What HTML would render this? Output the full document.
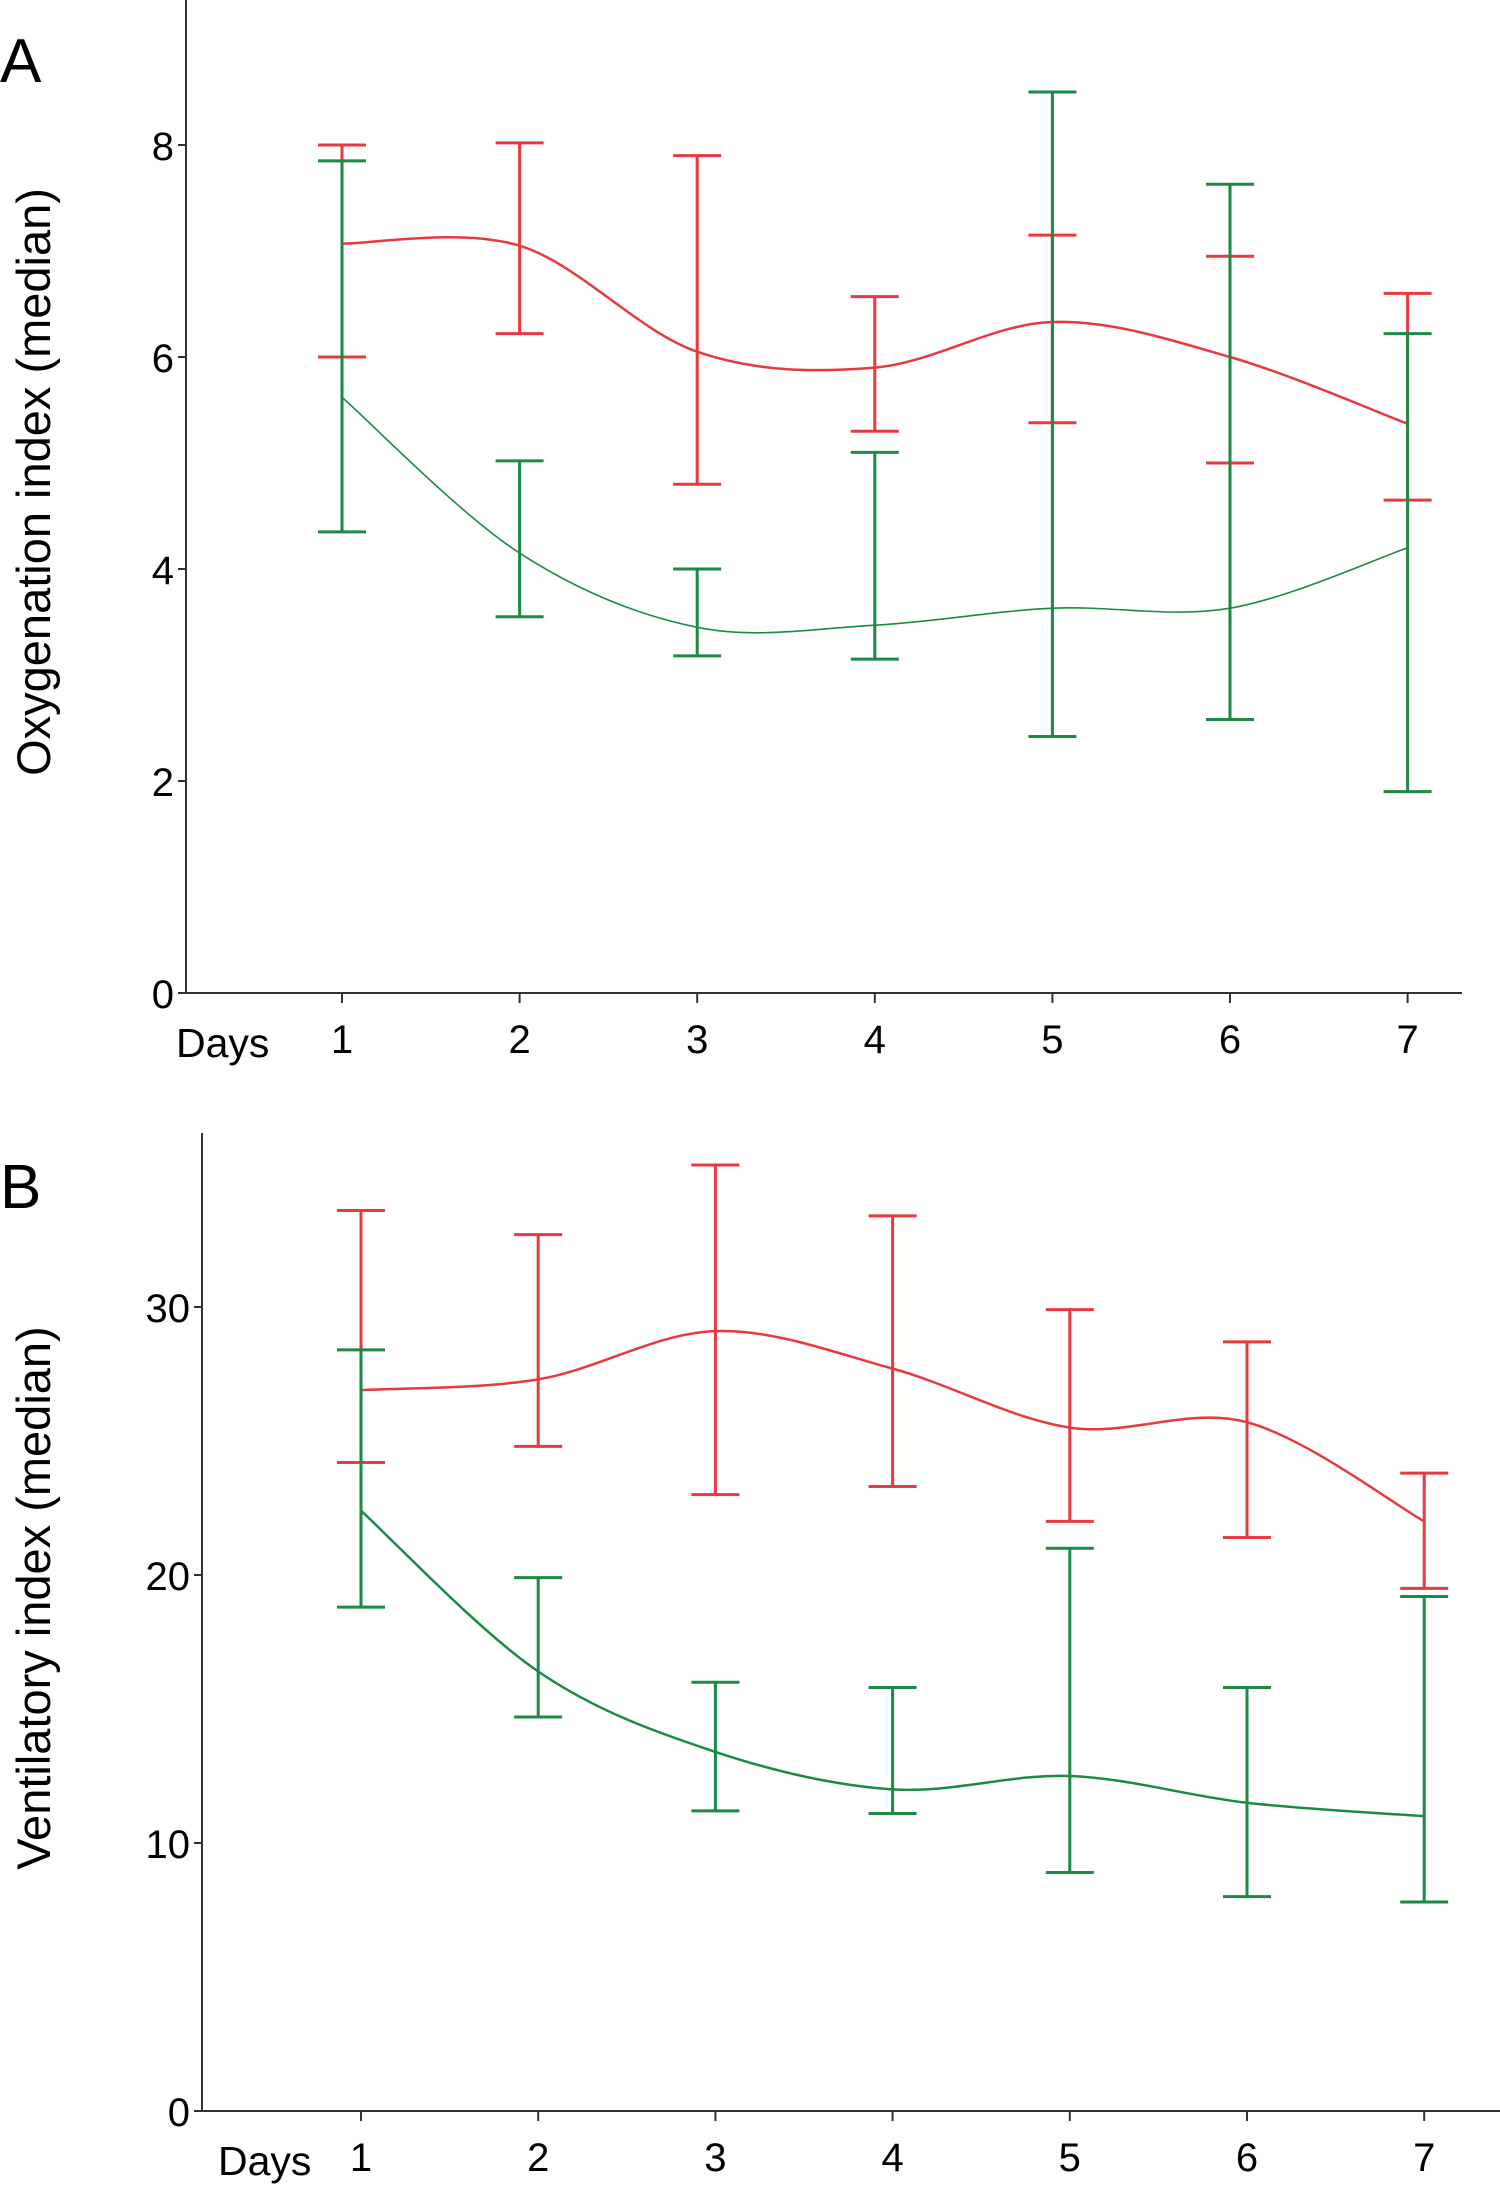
<!DOCTYPE html>
<html><head><meta charset="utf-8">
<style>
html,body{margin:0;padding:0;background:#fff;}
svg{display:block;font-family:"Liberation Sans",sans-serif;}
</style></head>
<body>
<svg id="chart" width="1500" height="2188" viewBox="0 0 1500 2188" xmlns="http://www.w3.org/2000/svg">
<text x="0" y="82" font-size="62">A</text>
<text x="0" y="1208" font-size="62">B</text>
</svg>
<script>
const days = [1,2,3,4,5,6,7];
const aTicks = [0,2,4,6,8];
const bTicks = [0,10,20,30];
const aRedMed = [7.07,7.05,6.05,5.9,6.33,6.0,5.37];
const aRedLo = [6.0,6.22,4.8,5.3,5.38,5.0,4.65];
const aRedHi = [8.0,8.02,7.9,6.57,7.15,6.95,6.6];
const aGreenMed = [5.62,4.15,3.45,3.47,3.63,3.63,4.2];
const aGreenLo = [4.35,3.55,3.18,3.15,2.42,2.58,1.9];
const aGreenHi = [7.85,5.02,4.0,5.1,8.5,7.63,6.22];
const bRedMed = [26.9,27.3,29.1,27.7,25.5,25.7,22.0];
const bRedLo = [24.2,24.8,23.0,23.3,22.0,21.4,19.5];
const bRedHi = [33.6,32.7,35.3,33.4,29.9,28.7,23.8];
const bGreenMed = [22.4,16.4,13.4,12.0,12.5,11.5,11.0];
const bGreenLo = [18.8,14.7,11.2,11.1,8.9,8.0,7.8];
const bGreenHi = [28.4,19.9,16.0,15.8,21.0,15.8,19.2];

const NS="http://www.w3.org/2000/svg";
const svg=document.getElementById('chart');
function mk(tag,attrs,parent){const e=document.createElementNS(NS,tag);for(const k in attrs)e.setAttribute(k,attrs[k]);(parent||svg).appendChild(e);return e;}

function panel(cfg){
  const g=mk('g',{});
  
  
  const X=d=>cfg.x1+(d-1)*cfg.dx;
  const Y=v=>cfg.y0-v*cfg.py;
  const ax=mk('path',{d:`M${cfg.axX},${cfg.axTop} V${cfg.y0} H${cfg.axRight}`,stroke:'#333',fill:'none','stroke-width':2},g);
  
  
  cfg.ticks.forEach(t=>{
    const l=mk('line',{x1:cfg.axX-8,x2:cfg.axX,y1:Y(t),y2:Y(t),stroke:'#333','stroke-width':2},g);
    
    
    const tx=mk('text',{x:cfg.axX-12,y:Y(t)+15,'font-size':40,'text-anchor':'end'},g);
    tx.textContent=t;
    
    
  });
  days.forEach(d=>{
    const l=mk('line',{x1:X(d),x2:X(d),y1:cfg.y0,y2:cfg.y0+10,stroke:'#333','stroke-width':2},g);
    
    
    const tx=mk('text',{x:X(d),y:cfg.y0+60,'font-size':40,'text-anchor':'middle'},g);
    tx.textContent=d;
    
    
  });
  const dl=mk('text',{x:cfg.daysX,y:cfg.y0+64,'font-size':41},g);
  dl.textContent='Days';
  
  
  const yt=mk('text',{x:0,y:0,'font-size':47,'text-anchor':'middle',transform:`translate(${cfg.titleX},${cfg.titleY}) rotate(-90)`},g);
  yt.textContent=cfg.title;
  
  
  cfg.series.forEach(s=>{
    days.forEach((d,i)=>{
      const x=X(d);
      const e=mk('path',{d:`M${x-24},${Y(s.hi[i])} H${x+24} M${x},${Y(s.hi[i])} V${Y(s.lo[i])} M${x-24},${Y(s.lo[i])} H${x+24}`,stroke:s.color,'stroke-width':3,fill:'none'},g);
      
      
    });
    const pts=days.map((d,i)=>[X(d),Y(s.med[i])]);
    let p=`M${pts[0][0]},${pts[0][1]}`;
    for(let i=0;i<pts.length-1;i++){
      const p0=pts[Math.max(0,i-1)],p1=pts[i],p2=pts[i+1],p3=pts[Math.min(pts.length-1,i+2)];
      const c1=[p1[0]+(p2[0]-p0[0])/6,p1[1]+(p2[1]-p0[1])/6];
      const c2=[p2[0]-(p3[0]-p1[0])/6,p2[1]-(p3[1]-p1[1])/6];
      p+=` C${c1[0]},${c1[1]} ${c2[0]},${c2[1]} ${p2[0]},${p2[1]}`;
    }
    const ln=mk('path',{d:p,stroke:s.color,'stroke-width':s.w,fill:'none'},g);
    
    
  });
}
panel({name:'panel-a-oxygenation-chart',x1:342,dx:177.6,y0:993,py:106,axX:186,axTop:0,axRight:1462,ticks:aTicks,daysX:176,title:'Oxygenation index (median)',titleX:50,titleY:482,
  series:[{name:'red-series-line',color:'#e8393f',w:2.5,med:aRedMed,lo:aRedLo,hi:aRedHi},{name:'green-series-line',color:'#1a8a45',w:1.6,med:aGreenMed,lo:aGreenLo,hi:aGreenHi}]});
panel({name:'panel-b-ventilatory-chart',x1:361,dx:177.2,y0:2111,py:26.8,axX:202,axTop:1133,axRight:1500,ticks:bTicks,daysX:218,title:'Ventilatory index (median)',titleX:50,titleY:1598,
  series:[{name:'red-series-line',color:'#e8393f',w:2.5,med:bRedMed,lo:bRedLo,hi:bRedHi},{name:'green-series-line',color:'#1a8a45',w:2.5,med:bGreenMed,lo:bGreenLo,hi:bGreenHi}]});
</script>
</body></html>
